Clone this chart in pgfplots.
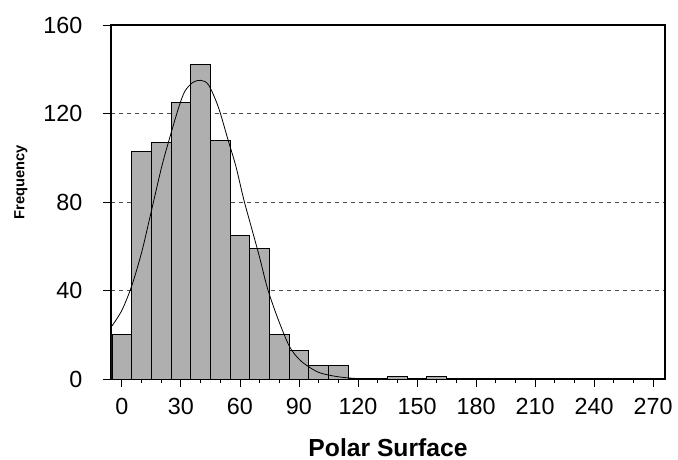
\documentclass[border=0pt]{standalone}
\usepackage{fontspec}
\setmainfont{Liberation Sans}
\usepackage{pgfplots}
\pgfplotsset{compat=1.18}
\definecolor{barGray}{RGB}{175,175,175}

% histogram counts, bins of width 10 (left edges)
\pgfplotstableread{
edge count
-5  20
5   103
15  107
25  125
35  142
45  108
55  65
65  59
75  20
85  13
95  6
105 6
115 0
125 0
135 1
145 0
155 1
165 0
}\bins

\begin{document}
\begin{tikzpicture}
  \begin{axis}[
      scale only axis,
      width=415.5pt, height=265.5pt,
      xmin=-5.5, xmax=276, ymin=0, ymax=160,
      xtick={0,30,...,270}, minor x tick num=2,
      ytick={0,40,...,160},
      tick align=outside, xtick pos=bottom, ytick pos=left,
      major tick length=6pt, minor tick length=3pt,
      tick style={black, line width=0.6pt},
      axis line style={line width=1.1pt},
      ymajorgrids, grid style={black!70, dash pattern=on 3pt off 3pt, line width=0.5pt},
      /pgf/number format/assume math mode=true,
      ticklabel style={font=\fontsize{17.5}{20}\selectfont},
      yticklabel style={xshift=-12pt},
      xticklabel style={yshift=-4.5pt},
      xlabel={\textbf{Polar Surface}},
      xlabel style={font=\fontsize{18.5}{22}\selectfont, at={(axis description cs:0.5,-0.195)}, anchor=center},
      ylabel={\textbf{Frequency}},
      ylabel style={font=\fontsize{11}{13}\selectfont, at={(axis description cs:-0.1625,0.556)}, anchor=center},
    ]
    \addplot[ybar interval, fill=barGray, draw=black, line width=0.7pt] table[x=edge, y=count] {\bins};
    \addplot[black, line width=0.6pt, smooth] coordinates {
      (-5,24) (0,31) (5,42) (10,57) (14,72) (20,95) (24,108) (29,123) (32,130)
      (36,134) (40,135) (44,133) (49,123) (54,108) (58,96) (62,81) (66,68)
      (70,55) (74,41) (79,28) (85,15) (90,9) (95,5.5) (100,3) (105,1.8)
      (110,1) (115,0.5) (120,0.2) (130,0)
    };
  \end{axis}
  \pgfresetboundingbox
  \path[use as bounding box] ([shift={(-83.25pt,-60.75pt)}]current axis.south west)
    rectangle ([shift={(9.75pt,18.75pt)}]current axis.north east);
\end{tikzpicture}
\end{document}
